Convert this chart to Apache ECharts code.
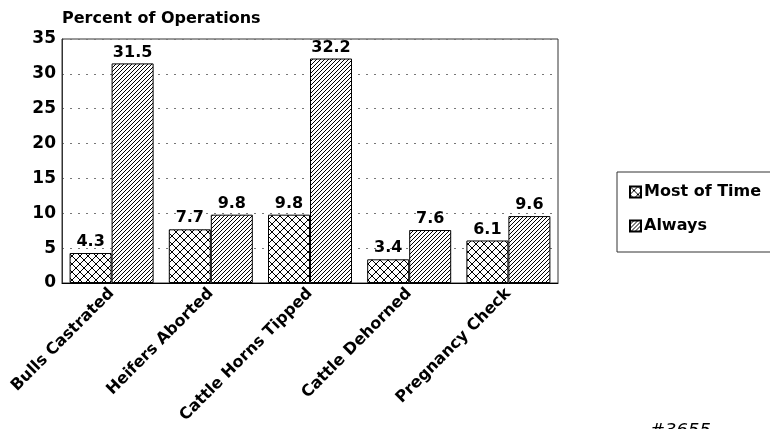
<!DOCTYPE html>
<html>
<head>
<meta charset="utf-8">
<script src="https://cdn.jsdelivr.net/npm/echarts@6/dist/echarts.min.js"></script>
<style>
    html, body { margin: 0; padding: 0; background: #fff; }
    #chart { width: 770px; height: 429px; }
</style>
</head>
<body>
<div id="chart"></div>
<script>
// data
const categories = ['Bulls Castrated', 'Heifers Aborted', 'Cattle Horns Tipped', 'Cattle Dehorned', 'Pregnancy Check'];
const mostOfTime = [4.3, 7.7, 9.8, 3.4, 6.1];
const always = [31.5, 9.8, 32.2, 7.6, 9.6];
const yTicks = {min: 0, max: 35, interval: 5};

const FONT = 'DejaVu Sans';

// 斜线填充
function makeHatch(cross) {
    let size = cross ? 8 : 4;
    let c = document.createElement('canvas');
    c.width = size;
    c.height = size;
    let ctx = c.getContext('2d');
    ctx.fillStyle = '#fff';
    ctx.fillRect(0, 0, size, size);
    ctx.strokeStyle = '#000';
    ctx.lineWidth = 1;
    ctx.beginPath();
    // "/" direction
    ctx.moveTo(-1, size + 1);
    ctx.lineTo(size + 1, -1);
    ctx.moveTo(-1, 1);
    ctx.lineTo(1, -1);
    ctx.moveTo(size - 1, size + 1);
    ctx.lineTo(size + 1, size - 1);
    if (cross) {
        // "\" direction
        ctx.moveTo(-1, -1);
        ctx.lineTo(size + 1, size + 1);
        ctx.moveTo(size - 1, -1);
        ctx.lineTo(size + 1, 1);
        ctx.moveTo(-1, size - 1);
        ctx.lineTo(1, size + 1);
    }
    ctx.stroke();
    return c;
}

const crossFill = {image: makeHatch(true), repeat: 'repeat'};
const lineFill = {image: makeHatch(false), repeat: 'repeat'};

const labelStyle = {
    show: true,
    position: 'top',
    distance: 3,
    color: '#000',
    fontFamily: FONT,
    fontWeight: 'bold',
    fontSize: 16
};

const chart = echarts.init(document.getElementById('chart'), null, {renderer: 'canvas'});

chart.setOption({
    animation: false,
    backgroundColor: '#fff',
    title: {
        text: 'Percent of Operations',
        left: 57,
        top: 6,
        textStyle: {fontFamily: FONT, fontWeight: 'bold', fontSize: 16, color: '#000'}
    },
    grid: {
        left: 62,
        top: 39,
        right: 212,
        bottom: 146,
        show: true,
        borderColor: '#333',
        borderWidth: 1
    },
    legend: {
        orient: 'vertical',
        left: 617,
        top: 172,
        padding: [12, 20, 18, 12],
        itemGap: 18,
        itemWidth: 11,
        itemHeight: 11,
        icon: 'rect',
        borderColor: '#333',
        borderWidth: 1,
        textStyle: {fontFamily: FONT, fontWeight: 'bold', fontSize: 16, color: '#000', padding: [0, 0, 0, -2]},
        data: ['Most of Time', 'Always']
    },
    xAxis: {
        type: 'category',
        data: categories,
        axisLine: {lineStyle: {color: '#000'}},
        axisTick: {show: false},
        axisLabel: {
            rotate: 45,
            margin: 8,
            color: '#000',
            fontFamily: FONT,
            fontWeight: 'bold',
            fontSize: 16,
            interval: 0
        }
    },
    yAxis: {
        type: 'value',
        min: yTicks.min,
        max: yTicks.max,
        interval: yTicks.interval,
        axisLine: {show: true, lineStyle: {color: '#333'}},
        axisTick: {show: false},
        axisLabel: {margin: 6, color: '#000', fontFamily: FONT, fontWeight: 'bold', fontSize: 17},
        splitLine: {lineStyle: {color: '#777', type: [2, 6], width: 1}}
    },
    series: [
        {
            name: 'Most of Time',
            type: 'bar',
            data: mostOfTime,
            barWidth: 42,
            barGap: '0%',
            itemStyle: {color: crossFill, borderColor: '#000', borderWidth: 1},
            label: labelStyle
        },
        {
            name: 'Always',
            type: 'bar',
            data: always,
            barWidth: 42,
            itemStyle: {color: lineFill, borderColor: '#000', borderWidth: 1},
            label: labelStyle
        }
    ],
    graphic: [
        {
            type: 'text',
            left: 650,
            top: 422,
            style: {text: '#3655', fontFamily: FONT, fontStyle: 'italic', fontSize: 18, fill: '#000'}
        }
    ]
});
</script>
</body>
</html>
